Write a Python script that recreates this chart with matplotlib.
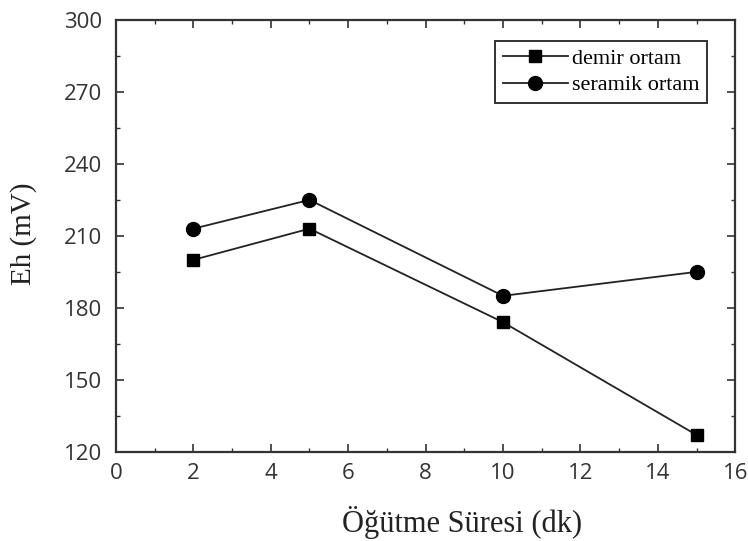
import matplotlib.pyplot as plt
from matplotlib.ticker import MultipleLocator

# data
sure = [2, 5, 10, 15]
demir = [200, 213, 174, 127]
seramik = [213, 225, 185, 195]

fig = plt.figure(figsize=(7.48, 5.41), dpi=100)
ax = fig.add_axes([0.155, 0.165, 0.828, 0.798])

ax.plot(sure, demir, color="#222222", lw=1.3, marker="s", ms=9,
        mfc="black", mec="black", label="demir ortam")
ax.plot(sure, seramik, color="#222222", lw=1.3, marker="o", ms=10,
        mfc="black", mec="black", label="seramik ortam")

ax.set_xlim(0, 16)
ax.set_ylim(120, 300)
ax.xaxis.set_major_locator(MultipleLocator(2))
ax.xaxis.set_minor_locator(MultipleLocator(1))
ax.yaxis.set_major_locator(MultipleLocator(30))
ax.yaxis.set_minor_locator(MultipleLocator(15))

ax.tick_params(which="both", direction="in", top=True, right=True,
               colors="#333333", labelcolor="#333333")
ax.tick_params(which="major", length=6, width=1.2, labelsize=16)
ax.tick_params(axis="x", which="major", pad=8)
ax.tick_params(axis="y", which="major", pad=10)
ax.tick_params(which="minor", length=3, width=1.0)
for lab in ax.get_xticklabels() + ax.get_yticklabels():
    lab.set_family("Open Sans")

for sp in ax.spines.values():
    sp.set_linewidth(1.6)
    sp.set_color("#333333")

ax.set_xlabel("Öğütme Süresi (dk)", family="Liberation Serif", fontsize=22,
              color="#222222")
ax.set_ylabel("Eh (mV)", family="Liberation Serif", fontsize=21,
              color="#222222")
ax.xaxis.set_label_coords(0.559, -0.125)
ax.yaxis.set_label_coords(-0.128, 0.505)

leg = ax.legend(loc="upper right", bbox_to_anchor=(0.962, 0.962),
                prop={"family": "Liberation Serif", "size": 16},
                fancybox=False, edgecolor="#333333", framealpha=1,
                handlelength=2.9, borderpad=0.35, labelspacing=0.25,
                handletextpad=0.2, borderaxespad=0.2)
leg.get_frame().set_linewidth(1.4)

fig.savefig("out.png", dpi=100)
